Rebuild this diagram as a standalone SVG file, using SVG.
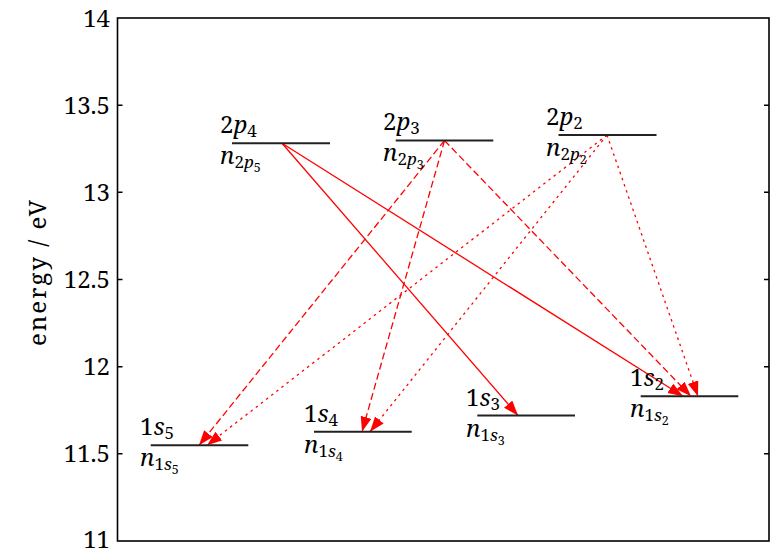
<svg xmlns="http://www.w3.org/2000/svg" width="774" height="551" viewBox="0 0 774 551">
<style>
text{font-family:'Noto Serif','DejaVu Serif',serif;fill:#000}
.tick{font-size:24px;text-anchor:end}
.lbl{font-size:24px}
.it{font-style:italic}
.sub{font-size:17px}
.ssub{font-size:12.5px}
.lvl{stroke:#222;stroke-width:2}
.frame{fill:none;stroke:#000;stroke-width:1.6}
.tk{stroke:#000;stroke-width:1.4}
.ar{stroke:#ff0000;stroke-width:1.3;fill:none;marker-end:url(#ah)}
.dash{stroke-dasharray:7,3.5}
.dot{stroke-dasharray:2.5,4}
</style>
<defs>
<marker id="ah" markerUnits="userSpaceOnUse" markerWidth="16" markerHeight="12" refX="15" refY="5.5" orient="auto">
<path d="M0,0 L15,5.5 L0,11 z" fill="#ff0000"/>
</marker>
</defs>
<g id="axes">
<rect class="frame" x="117.5" y="18" width="651.5" height="523"/>
<path class="tk" d="M117.5,105.2h5M117.5,192.3h5M117.5,279.5h5M117.5,366.7h5M117.5,453.8h5M769,105.2h-5M769,192.3h-5M769,279.5h-5M769,366.7h-5M769,453.8h-5"/>
<text class="tick" x="110" y="26.5">14</text>
<text class="tick" x="110" y="113.7">13.5</text>
<text class="tick" x="110" y="200.8">13</text>
<text class="tick" x="110" y="288">12.5</text>
<text class="tick" x="110" y="375.2">12</text>
<text class="tick" x="110" y="462.3">11.5</text>
<text class="tick" x="110" y="547.5">11</text>
<text transform="translate(46,273) rotate(-90)" text-anchor="middle" font-size="24" textLength="146" lengthAdjust="spacing">energy / eV</text>
</g>
<g id="connectors">
<line class="ar" x1="282" y1="143.3" x2="518" y2="415.5"/>
<line class="ar" x1="282" y1="143.3" x2="683" y2="396.3"/>
<line class="ar dash" x1="444.5" y1="140.5" x2="199" y2="445.3"/>
<line class="ar dash" x1="444.5" y1="140.5" x2="362" y2="431.7"/>
<line class="ar dash" x1="444.5" y1="140.5" x2="691" y2="396.3"/>
<line class="ar dot" x1="607" y1="135" x2="207" y2="445.3"/>
<line class="ar dot" x1="607" y1="135" x2="370" y2="431.7"/>
<line class="ar dot" x1="607" y1="135" x2="698" y2="396.3"/>
</g>
<g id="n2p4">
<line class="lvl" x1="232" y1="143.3" x2="330" y2="143.3"/>
<text class="lbl" x="220" y="133">2<tspan class="it">p</tspan><tspan class="sub" dy="4">4</tspan></text>
<text class="lbl" x="220" y="164"><tspan class="it">n</tspan><tspan class="sub" dy="4">2</tspan><tspan class="sub it">p</tspan><tspan class="ssub" dy="4">5</tspan></text>
</g>
<g id="n2p3">
<line class="lvl" x1="395.7" y1="140.5" x2="493.3" y2="140.5"/>
<text class="lbl" x="383" y="130">2<tspan class="it">p</tspan><tspan class="sub" dy="4">3</tspan></text>
<text class="lbl" x="383" y="161"><tspan class="it">n</tspan><tspan class="sub" dy="4">2</tspan><tspan class="sub it">p</tspan><tspan class="ssub" dy="4">3</tspan></text>
</g>
<g id="n2p2">
<line class="lvl" x1="558.5" y1="135" x2="656.5" y2="135"/>
<text class="lbl" x="546" y="125">2<tspan class="it">p</tspan><tspan class="sub" dy="4">2</tspan></text>
<text class="lbl" x="546" y="156"><tspan class="it">n</tspan><tspan class="sub" dy="4">2</tspan><tspan class="sub it">p</tspan><tspan class="ssub" dy="4">2</tspan></text>
</g>
<g id="n1s5">
<line class="lvl" x1="150.7" y1="445.3" x2="248.3" y2="445.3"/>
<text class="lbl" x="140" y="435">1<tspan class="it">s</tspan><tspan class="sub" dy="4">5</tspan></text>
<text class="lbl" x="140" y="466"><tspan class="it">n</tspan><tspan class="sub" dy="4">1</tspan><tspan class="sub it">s</tspan><tspan class="ssub" dy="4">5</tspan></text>
</g>
<g id="n1s4">
<line class="lvl" x1="314" y1="431.7" x2="411.7" y2="431.7"/>
<text class="lbl" x="304" y="421.5">1<tspan class="it">s</tspan><tspan class="sub" dy="4">4</tspan></text>
<text class="lbl" x="304" y="452.5"><tspan class="it">n</tspan><tspan class="sub" dy="4">1</tspan><tspan class="sub it">s</tspan><tspan class="ssub" dy="4">4</tspan></text>
</g>
<g id="n1s3">
<line class="lvl" x1="477.3" y1="415.5" x2="575" y2="415.5"/>
<text class="lbl" x="466" y="405.5">1<tspan class="it">s</tspan><tspan class="sub" dy="4">3</tspan></text>
<text class="lbl" x="466" y="436.5"><tspan class="it">n</tspan><tspan class="sub" dy="4">1</tspan><tspan class="sub it">s</tspan><tspan class="ssub" dy="4">3</tspan></text>
</g>
<g id="n1s2">
<line class="lvl" x1="640.7" y1="396.3" x2="738.3" y2="396.3"/>
<text class="lbl" x="630" y="386">1<tspan class="it">s</tspan><tspan class="sub" dy="4">2</tspan></text>
<text class="lbl" x="630" y="417"><tspan class="it">n</tspan><tspan class="sub" dy="4">1</tspan><tspan class="sub it">s</tspan><tspan class="ssub" dy="4">2</tspan></text>
</g>
</svg>
